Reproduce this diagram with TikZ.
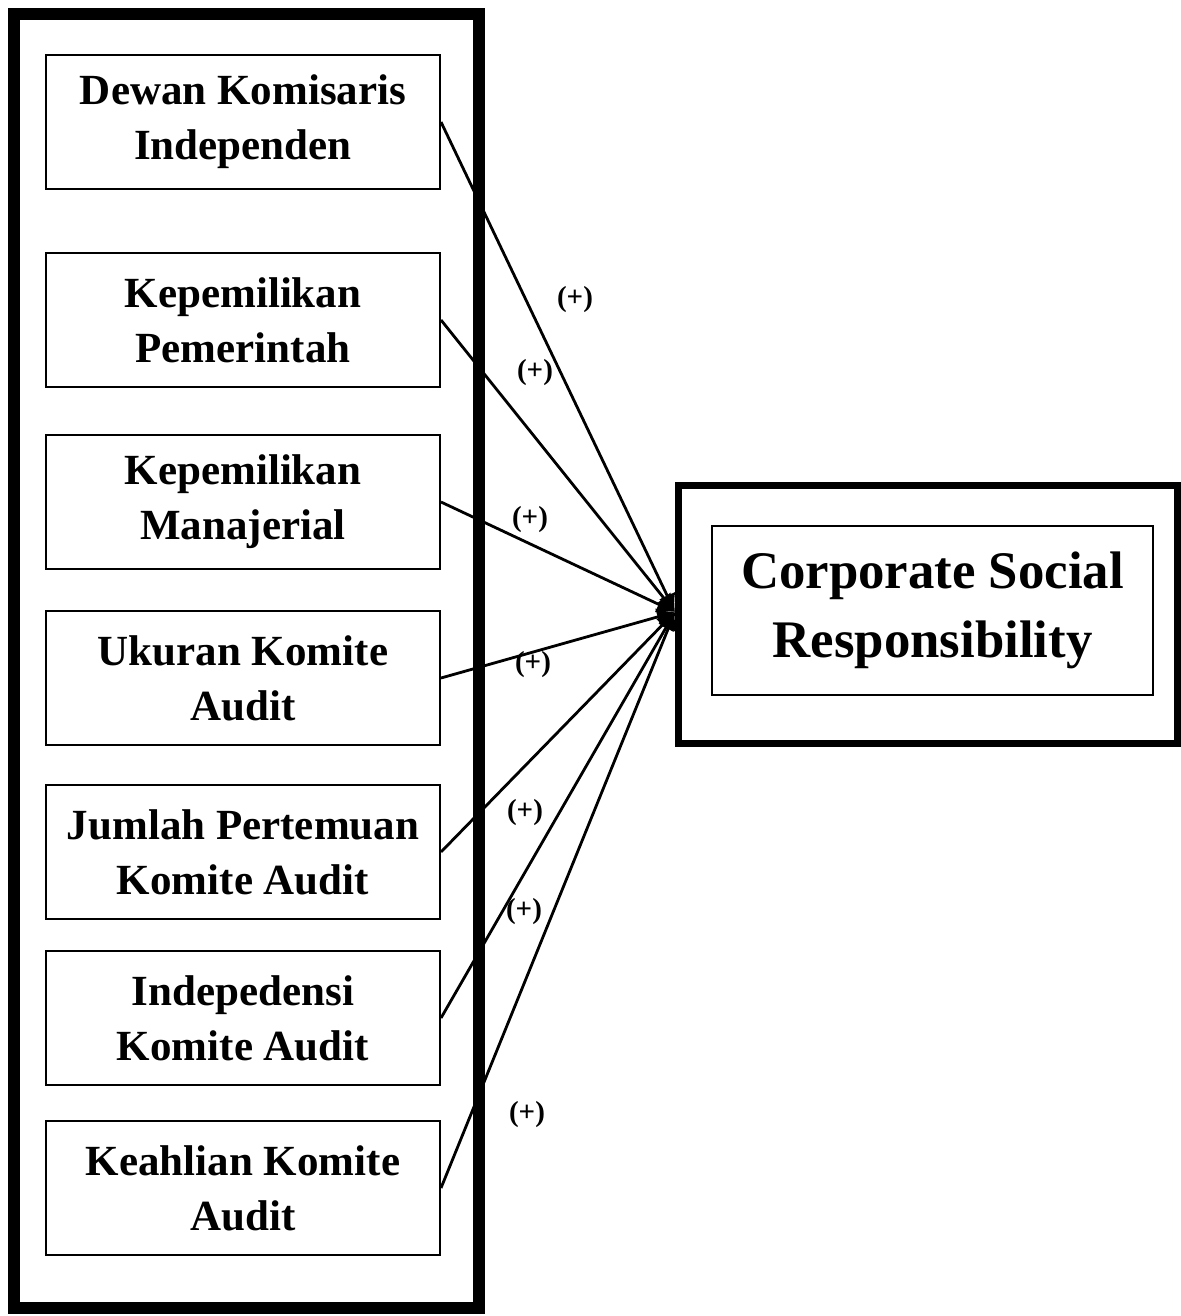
\documentclass[tikz,border=0pt]{standalone}
\usepackage{fontspec}
\setmainfont{Liberation Serif}
\usepackage{tikz}
\usetikzlibrary{positioning,calc,arrows.meta}

\tikzset{
  varbox/.style={draw, line width=1pt, minimum width=197pt, minimum height=67pt,
    align=center, font=\fontsize{21.5}{27.5}\selectfont\bfseries, inner sep=0pt},
  link/.style={line width=1.4pt, -{Latex[length=9pt,width=9pt]}},
  sign/.style={font=\fontsize{14.5}{16}\selectfont\bfseries, inner sep=0pt}
}

\begin{document}
\begin{tikzpicture}[x=0.5pt, y=-0.5pt]
    \useasboundingbox (0,0) rectangle (1181,1316);

    % Frames
    \draw[line width=6pt] (14,14) rectangle (479,1308);
    \draw[line width=3.5pt] (678,485) rectangle (1177,743);

    % Independent variables
    \node[varbox] (dki) at (243,122) {Dewan Komisaris\\Independen};
    \node[varbox] (kp) at (243,320) {Kepemilikan\\Pemerintah};
    \node[varbox] (km) at (243,502) {Kepemilikan\\Manajerial};
    \node[varbox] (uka) at (243,678) {Ukuran Komite\\Audit};
    \node[varbox] (jpka) at (243,852) {Jumlah Pertemuan\\Komite Audit};
    \node[varbox] (ika) at (243,1018) {Indepedensi\\Komite Audit};
    \node[varbox] (kka) at (243,1188) {Keahlian Komite\\Audit};

    % Dependent variable
    \node[draw, line width=1pt, minimum width=220.5pt, minimum height=84.5pt,
      align=center, font=\fontsize{26.4}{34.5}\selectfont\bfseries, inner sep=0pt]
      (csr) at (932.5,610.5) {Corporate Social\\Responsibility};
    \coordinate (hub) at (675,612);

    % Paths
    \foreach \v in {dki,kp,km,uka,jpka,ika,kka}
      \draw[link] (\v.east) -- (hub);

    % Signs
    \node[sign] at (575,300) {(+)};
    \node[sign] at (535,373) {(+)};
    \node[sign] at (530,520) {(+)};
    \node[sign] at (533,665) {(+)};
    \node[sign] at (525,813) {(+)};
    \node[sign] at (524,912) {(+)};
    \node[sign] at (527,1115) {(+)};
\end{tikzpicture}
\end{document}
